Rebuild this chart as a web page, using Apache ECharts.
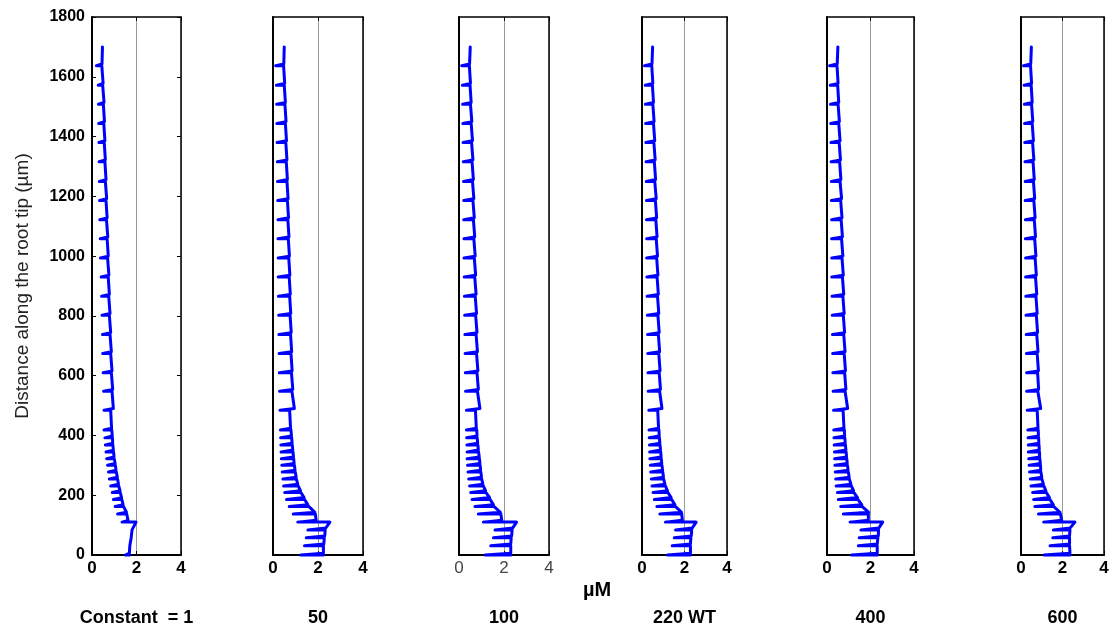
<!DOCTYPE html>
<html><head><meta charset="utf-8">
<script src="https://cdn.jsdelivr.net/npm/echarts@6/dist/echarts.min.js"></script>
<style>html,body{margin:0;padding:0;background:#fff}#c{width:1117px;height:628px}</style>
</head><body><div id="c"></div><script>
// ---------------- data ----------------
const panelNames = ['Constant  = 1', '50', '100', '220 WT', '400', '600'];
const xTickValues = [0, 2, 4];
const yTickLabels = ['0','200','400','600','800','1000','1200','1400','1600','1800'];
const yAxisTitle = 'Distance along the root tip (\u00b5m)';
const xAxisTitle = '\u00b5M';
// cell-wall positions along the root (µm)
const boundaries = [0,31,58,84,110,137,162,186,209,231,254,278,300,322,345,368,392,418,
  484,548,610,674,738,802,866,930,994,1058,1122,1186,1250,1316,1380,1444,1508,1572,1637];
const profileTop = 1700;
const wallThickness = 6;
// panel 1 : Constant = 1
const tip1 = [1.50,1.64,1.70,1.74,1.35,1.15,1.04,0.96,0.91,0.84,0.78,0.74,0.70,0.66,0.63,0.60,0.58,0.54,
  0.54,0.52,0.50,0.48,0.47,0.45,0.43,0.41,0.38,0.37,0.35,0.34,0.33,0.32,0.31,0.30,0.29,0.28,0.20];
const lo1 = [1.68,1.72,1.78,1.82,1.62,1.55,1.40,1.33,1.26,1.19,1.14,1.08,1.04,0.99,0.96,0.93,0.91,0.88,
  0.96,0.93,0.90,0.87,0.84,0.81,0.78,0.76,0.73,0.71,0.68,0.66,0.63,0.60,0.58,0.56,0.54,0.50,0.45];
const hi1 = [1.70,1.76,1.80,1.98,1.56,1.42,1.34,1.27,1.20,1.15,1.09,1.05,1.00,0.97,0.94,0.92,0.89,0.84,
  0.90,0.87,0.84,0.81,0.78,0.75,0.73,0.70,0.68,0.65,0.63,0.60,0.58,0.55,0.53,0.51,0.48,0.44,0.47];
// panel 2 : 50
const tip2 = [1.23,1.40,1.48,1.55,1.10,0.90,0.72,0.60,0.52,0.47,0.44,0.41,0.39,0.37,0.36,0.35,0.34,0.33,
  0.31,0.29,0.28,0.27,0.26,0.25,0.24,0.23,0.23,0.22,0.22,0.21,0.20,0.19,0.18,0.17,0.16,0.15,0.12];
const lo2 = [2.24,2.26,2.30,2.34,1.92,1.86,1.55,1.38,1.22,1.10,1.03,0.98,0.94,0.91,0.88,0.85,0.82,0.78,
  0.95,0.88,0.85,0.83,0.81,0.79,0.77,0.75,0.73,0.71,0.69,0.67,0.64,0.62,0.60,0.58,0.55,0.52,0.48];
const hi2 = [2.24,2.28,2.32,2.53,1.88,1.60,1.40,1.24,1.12,1.04,0.99,0.95,0.92,0.89,0.86,0.83,0.80,0.74,
  0.84,0.82,0.80,0.78,0.76,0.74,0.72,0.70,0.68,0.66,0.64,0.62,0.59,0.57,0.55,0.53,0.50,0.47,0.50];
// panel 3 : 100
const tip3 = [1.16,1.41,1.53,1.60,1.08,0.86,0.71,0.58,0.52,0.47,0.43,0.40,0.38,0.36,0.36,0.35,0.34,0.33,
  0.33,0.29,0.28,0.27,0.26,0.25,0.24,0.23,0.22,0.22,0.21,0.21,0.20,0.19,0.18,0.17,0.16,0.15,0.12];
const lo3 = [2.30,2.30,2.34,2.38,1.90,1.84,1.53,1.36,1.18,1.06,1.00,0.96,0.93,0.90,0.86,0.83,0.80,0.77,
  0.93,0.86,0.84,0.82,0.80,0.78,0.76,0.74,0.72,0.70,0.68,0.66,0.64,0.62,0.60,0.57,0.54,0.51,0.47];
const hi3 = [2.30,2.32,2.36,2.56,1.86,1.56,1.38,1.20,1.08,1.01,0.97,0.94,0.91,0.87,0.84,0.81,0.79,0.73,
  0.82,0.80,0.78,0.76,0.74,0.72,0.70,0.68,0.66,0.64,0.62,0.60,0.58,0.56,0.54,0.51,0.49,0.46,0.50];
// panel 4 : 220 WT
const tip4 = [1.20,1.42,1.52,1.58,1.10,0.84,0.70,0.58,0.52,0.47,0.44,0.41,0.39,0.37,0.36,0.35,0.34,0.33,
  0.32,0.29,0.28,0.27,0.26,0.25,0.24,0.23,0.22,0.22,0.21,0.21,0.20,0.19,0.18,0.17,0.16,0.15,0.12];
const lo4 = [2.28,2.28,2.32,2.36,1.90,1.86,1.55,1.37,1.20,1.08,1.01,0.97,0.93,0.90,0.87,0.84,0.81,0.78,
  0.94,0.87,0.85,0.83,0.81,0.79,0.77,0.75,0.73,0.71,0.69,0.67,0.64,0.62,0.60,0.57,0.54,0.51,0.47];
const hi4 = [2.28,2.30,2.34,2.55,1.87,1.58,1.39,1.22,1.10,1.02,0.98,0.94,0.91,0.88,0.85,0.82,0.80,0.74,
  0.83,0.81,0.79,0.77,0.75,0.73,0.71,0.69,0.67,0.65,0.63,0.60,0.58,0.56,0.54,0.51,0.49,0.46,0.50];
// panel 5 : 400
const tip5 = [1.13,1.44,1.48,1.56,1.06,0.75,0.63,0.52,0.48,0.42,0.40,0.38,0.36,0.35,0.34,0.33,0.32,0.31,
  0.30,0.28,0.27,0.26,0.25,0.24,0.23,0.22,0.22,0.21,0.21,0.20,0.20,0.19,0.18,0.17,0.16,0.15,0.12];
const lo5 = [2.31,2.31,2.36,2.38,1.90,1.92,1.60,1.40,1.22,1.10,1.02,0.97,0.93,0.90,0.87,0.84,0.81,0.78,
  0.95,0.87,0.85,0.83,0.81,0.79,0.77,0.75,0.73,0.71,0.69,0.67,0.64,0.62,0.60,0.57,0.54,0.51,0.47];
const hi5 = [2.31,2.34,2.37,2.56,1.90,1.62,1.42,1.24,1.12,1.03,0.98,0.94,0.91,0.88,0.85,0.82,0.80,0.74,
  0.83,0.81,0.79,0.77,0.75,0.73,0.71,0.69,0.67,0.65,0.63,0.60,0.58,0.56,0.54,0.51,0.49,0.46,0.50];
// panel 6 : 600
const tip6 = [1.11,1.40,1.53,1.56,1.09,0.84,0.67,0.61,0.56,0.48,0.45,0.41,0.39,0.37,0.35,0.35,0.34,0.33,
  0.30,0.27,0.27,0.26,0.25,0.24,0.23,0.22,0.22,0.21,0.21,0.20,0.20,0.19,0.18,0.17,0.16,0.15,0.12];
const lo6 = [2.36,2.34,2.34,2.36,1.96,1.88,1.56,1.37,1.20,1.08,1.00,0.95,0.93,0.90,0.88,0.86,0.84,0.82,
  0.95,0.85,0.84,0.82,0.80,0.78,0.76,0.74,0.72,0.70,0.68,0.66,0.64,0.62,0.60,0.57,0.54,0.51,0.47];
const hi6 = [2.34,2.34,2.36,2.60,1.90,1.58,1.39,1.22,1.10,1.01,0.96,0.94,0.91,0.89,0.87,0.85,0.83,0.78,
  0.81,0.80,0.78,0.76,0.74,0.72,0.70,0.68,0.66,0.64,0.62,0.60,0.58,0.56,0.54,0.51,0.49,0.46,0.50];

const tipSets = [tip1, tip2, tip3, tip4, tip5, tip6];
const loSets = [lo1, lo2, lo3, lo4, lo5, lo6];
const hiSets = [hi1, hi2, hi3, hi4, hi5, hi6];

// ---------------- layout ----------------
const gridLeft = [92, 273, 459, 642, 827, 1021];
const gridWidth = [89, 90, 90, 85, 87, 83];
const gridTop = 17, gridHeight = 538;

function profile(tip, lo, hi) {
  const pts = [];
  for (let k = 0; k < boundaries.length; k++) {
    const y = boundaries[k];
    pts.push(k === 0 ? [lo[0], y] : [hi[k - 1], y]);
    pts.push([tip[k], y]);
    pts.push([tip[k], y + wallThickness]);
    pts.push([lo[k], y + wallThickness]);
  }
  pts.push([hi[hi.length - 1], profileTop]);
  return pts;
}

const tickFont = "'Liberation Sans Narrow','Liberation Sans',Arial,sans-serif";
const grids = [], xAxes = [], yAxes = [], series = [];
for (let i = 0; i < 6; i++) {
  grids.push({left: gridLeft[i], top: gridTop, width: gridWidth[i], height: gridHeight, containLabel: false, outerBoundsMode: 'none'});
  const light = (i === 2);
  xAxes.push({
    gridIndex: i, type: 'value', position: 'bottom', min: xTickValues[0], max: xTickValues[2], interval: xTickValues[1] - xTickValues[0],
    axisLine: {onZero: false, lineStyle: {color: '#000', width: 2}},
    axisTick: {inside: true, length: 4, lineStyle: {color: '#000', width: 1}},
    axisLabel: {color: light ? '#444' : '#000', fontWeight: light ? 'normal' : 'bold', fontSize: 17, fontFamily: tickFont, margin: 5,
      formatter: v => String(v)},
    splitLine: {show: true, lineStyle: {color: '#9a9a9a', width: 1}},
    name: panelNames[i], nameLocation: 'middle', nameGap: 54,
    nameTextStyle: {color: '#000', fontWeight: 'bold', fontSize: 18, fontFamily: tickFont}
  });
  xAxes.push({
    gridIndex: i, type: 'value', position: 'top', min: 0, max: 4, interval: 2,
    axisLine: {onZero: false, lineStyle: {color: '#000', width: 1.5}},
    axisTick: {inside: true, length: 4, lineStyle: {color: '#000', width: 1}},
    axisLabel: {show: false}, splitLine: {show: false}
  });
  yAxes.push({
    gridIndex: i, type: 'value', position: 'left', min: 0, max: 1800, interval: 200,
    axisLine: {onZero: false, lineStyle: {color: '#000', width: 2}},
    axisTick: {show: i === 0, inside: true, length: 4, lineStyle: {color: '#000', width: 1}},
    axisLabel: {show: i === 0, color: '#000', fontWeight: 'bold', fontSize: 16, fontFamily: 'Liberation Sans, Arial, sans-serif', margin: 7,
      formatter: v => yTickLabels[Math.round(v / 200)]},
    splitLine: {show: false},
    name: i === 0 ? yAxisTitle : '', nameLocation: 'middle', nameGap: 60, nameRotate: 90,
    nameTextStyle: {color: '#222', fontSize: 19, fontFamily: 'Liberation Sans, Arial, sans-serif'}
  });
  yAxes.push({
    gridIndex: i, type: 'value', position: 'right', min: 0, max: 1800, interval: 200,
    axisLine: {onZero: false, lineStyle: {color: '#000', width: 1.5}},
    axisTick: {show: i === 0, inside: true, length: 4, lineStyle: {color: '#000', width: 1}},
    axisLabel: {show: false}, splitLine: {show: false}
  });
  series.push({
    type: 'line', xAxisIndex: 2 * i, yAxisIndex: 2 * i, showSymbol: false, symbol: 'none',
    data: profile(tipSets[i], loSets[i], hiSets[i]),
    lineStyle: {color: '#0000ff', width: 3, join: 'round', cap: 'round'},
    clip: false, z: 3
  });
}

const chart = echarts.init(document.getElementById('c'), null, {renderer: 'canvas'});
chart.setOption({
  animation: false,
  backgroundColor: '#fff',
  grid: grids, xAxis: xAxes, yAxis: yAxes, series: series,
  graphic: [{
    type: 'text', x: 597, y: 590,
    style: {text: xAxisTitle, fill: '#000', font: "bold 20px 'Liberation Sans', Arial, sans-serif", textAlign: 'center', textVerticalAlign: 'middle'}
  }]
});
</script></body></html>
